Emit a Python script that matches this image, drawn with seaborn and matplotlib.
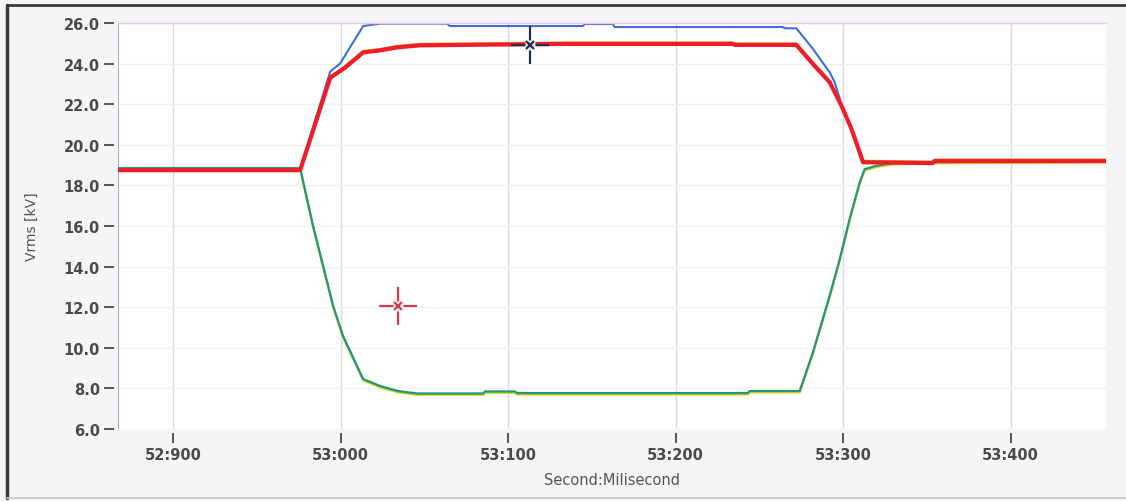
import numpy as np
import pandas as pd
import seaborn as sns
import matplotlib
matplotlib.use("Agg")
import matplotlib.pyplot as plt
import matplotlib.transforms as mtransforms
from matplotlib.ticker import FuncFormatter
from matplotlib.lines import Line2D

# ---------------- data (time in ms, voltage in kV) ----------------
blue_ms = [52867, 52975.8, 52993.7, 52999.6, 53013.4, 53023.5, 53063.5, 53065.3,
           53144.6, 53145.8, 53162.5, 53163.7, 53264.0, 53265.2, 53272.1, 53282.0,
           53292.0, 53295.0, 53299.9, 53305.0, 53311.9, 53353.5, 53354.7, 53457.3]
blue_kv = [18.80, 18.80, 23.60, 24.00, 25.85, 25.97, 25.97, 25.85,
           25.85, 25.95, 25.95, 25.80, 25.80, 25.74, 25.74, 24.72,
           23.57, 23.08, 21.76, 20.78, 19.14, 19.15, 19.20, 19.20]

red_ms = [52867, 52975.8, 52993.7, 53002.6, 53013.4, 53023.5, 53033.7, 53047.4,
          53135.0, 53234.1, 53235.3, 53272.1, 53282.0, 53292.0, 53299.0, 53305.0,
          53309.9, 53311.9, 53353.5, 53354.7, 53457.3]
red_kv = [18.75, 18.75, 23.30, 23.80, 24.55, 24.65, 24.80, 24.90,
          24.97, 24.97, 24.92, 24.92, 23.98, 23.08, 21.93, 20.78,
          19.63, 19.14, 19.10, 19.20, 19.20]

green_ms = [52867, 52975.8, 52983.5, 52989.5, 52995.5, 53001.4, 53013.4,
            53023.5, 53034.2, 53045.6, 53085.0, 53086.2, 53104.1, 53105.3, 53243.1,
            53244.3, 53274.1, 53282.0, 53292.0, 53298.0, 53303.9, 53309.9,
            53312.9, 53319.9, 53329.6, 53353.5, 53457.3]
green_kv = [18.85, 18.85, 16.00, 14.03, 12.06, 10.58, 8.46,
            8.12, 7.87, 7.75, 7.75, 7.85, 7.85, 7.77, 7.77,
            7.87, 7.87, 9.78, 12.57, 14.37, 16.34, 18.15,
            18.80, 18.97, 19.10, 19.15, 19.20]

cursor_x = [53113, 53034]
cursor_y = [24.9, 12.05]
cursor_colors = ["#22324e", "#d23a55"]

x_ticks = [52900, 53000, 53100, 53200, 53300, 53400]
y_ticks = [6, 8, 10, 12, 14, 16, 18, 20, 22, 24, 26]
x_min, x_max = 52867, 53457

# ---------------- figure ----------------
sns.set_theme(style="white")
plt.rcParams["font.family"] = ["DejaVu Sans"]

W, H = 1126, 502
fig = plt.figure(figsize=(W / 100, H / 100), dpi=100, facecolor="#f4f5f7")
ax = fig.add_axes([118 / W, 1 - 430 / H, (1106 - 118) / W, (430 - 24) / H])
ax.set_facecolor("white")

blue_df = pd.DataFrame({"t": blue_ms, "v": blue_kv})
red_df = pd.DataFrame({"t": red_ms, "v": red_kv})
green_df = pd.DataFrame({"t": green_ms, "v": green_kv})

down = mtransforms.offset_copy(ax.transData, fig=fig, x=0, y=-1.3, units="dots")
up = mtransforms.offset_copy(ax.transData, fig=fig, x=0, y=1.4, units="dots")

# companion traces (yellow under green, orange under red)
sns.lineplot(data=green_df, x="t", y="v", ax=ax, color="#d6cf1a", lw=1.6,
             sort=False, estimator=None, transform=down)
sns.lineplot(data=red_df, x="t", y="v", ax=ax, color="#e9a21c", lw=1.6,
             sort=False, estimator=None, transform=up)

sns.lineplot(data=blue_df, x="t", y="v", ax=ax, color="#3d6ed6", lw=1.5,
             sort=False, estimator=None)
sns.lineplot(data=green_df, x="t", y="v", ax=ax, color="#21977a", lw=1.6,
             sort=False, estimator=None)
sns.lineplot(data=red_df, x="t", y="v", ax=ax, color="#ef1d2a", lw=3.0,
             sort=False, estimator=None)

# cursors
for cx, cy, cc in zip(cursor_x, cursor_y, cursor_colors):
    ax.plot([cx], [cy], marker="+", ms=27, mew=1.6, color=cc, ls="none", zorder=6)
    ax.plot([cx], [cy], marker="s", ms=7, mec="none", mfc="white", ls="none", zorder=7,
            alpha=0.85)
    ax.plot([cx], [cy], marker="x", ms=6, mew=1.6, color=cc, ls="none", zorder=8)

ax.set_xlim(x_min, x_max)
ax.set_ylim(6, 26)
ax.set_xticks(x_ticks)
ax.set_yticks(y_ticks)
ax.xaxis.set_major_formatter(FuncFormatter(lambda v, p: f"{int(round(v)) // 1000}:{int(round(v)) % 1000:03d}"))
ax.yaxis.set_major_formatter(FuncFormatter(lambda v, p: f"{v:.1f}"))

ax.grid(True, axis="x", color="#d9d9ee", lw=1.0)
ax.grid(True, axis="y", color="#eef3ef", lw=1.0)
ax.set_axisbelow(True)

# spines: ticks sit a few pixels away from the plot
ax.spines["right"].set_visible(False)
ax.spines["bottom"].set_position(("outward", 3))
ax.spines["bottom"].set_color("none")
ax.spines["left"].set_position(("outward", 3))
ax.spines["left"].set_color("none")
ax.spines["top"].set_color("#ecc9da")
ax.spines["top"].set_linewidth(1.0)
ax.axvline(x_min, color="#a9a9c6", lw=1.4, zorder=1)

ax.tick_params(axis="y", direction="out", length=7, width=1.4, color="#555555",
               pad=3, labelsize=10.5, labelcolor="#4a4a4a", left=True)
ax.tick_params(axis="x", direction="out", length=7, width=1.4, color="#555555",
               pad=3, labelsize=10.5, labelcolor="#4a4a4a", bottom=True)
for lab in ax.get_xticklabels() + ax.get_yticklabels():
    lab.set_fontweight("bold")

ax.set_xlabel("Second:Milisecond", fontsize=10.5, color="#555555", labelpad=7)
ax.set_ylabel("Vrms [kV]", fontsize=10, color="#555555", labelpad=18)
ax.xaxis.label.set_fontweight("medium")
ax.yaxis.label.set_fontweight("medium")

# outer screenshot frame
fig.add_artist(Line2D([7 / W, 7 / W], [1 - 6 / H, 1 - 499 / H], transform=fig.transFigure,
                      color="#3a3a3a", lw=2.5))
fig.add_artist(Line2D([7 / W, 1.0], [1 - 6 / H, 1 - 6 / H], transform=fig.transFigure,
                      color="#3a3a3a", lw=2.0))
fig.add_artist(Line2D([7 / W, 1.0], [1 - 499 / H, 1 - 499 / H], transform=fig.transFigure,
                      color="#c8c8c8", lw=1.2))

fig.savefig("out.png", dpi=100, facecolor=fig.get_facecolor())
